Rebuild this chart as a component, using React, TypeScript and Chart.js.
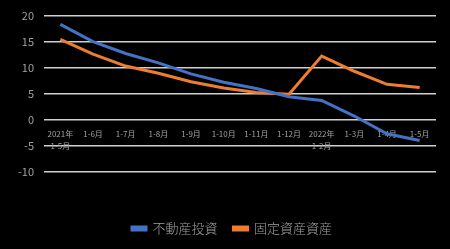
import React, { useEffect, useRef } from "react";
import { Chart, registerables } from "chart.js";

Chart.register(...registerables);

const categories: (string | string[])[] = [
  ["2021年", "1-5月"], "1-6月", "1-7月", "1-8月", "1-9月", "1-10月",
  "1-11月", "1-12月", ["2022年", "1-2月"], "1-3月", "1-4月", "1-5月",
];
const realEstate = [18.3, 15.0, 12.7, 10.9, 8.8, 7.2, 6.0, 4.4, 3.7, 0.7, -2.7, -4.0];
const fixedAssets = [15.4, 12.6, 10.3, 8.9, 7.3, 6.1, 5.2, 4.9, 12.2, 9.3, 6.8, 6.2];
const seriesNames = ["不動産投資", "固定資産資産"];

const shiftLegend = {
  id: "shiftLegend",
  afterLayout(chart: any) {
    if (chart.legend) {
      chart.legend.left += 10;
      chart.legend.right += 10;
    }
  },
};

export default function App() {
  const ref = useRef<HTMLCanvasElement>(null);
  useEffect(() => {
    if (!ref.current) return;
    const font = "'Noto Sans CJK JP', 'Noto Sans', sans-serif";
    const chart = new Chart(ref.current, {
      type: "line",
      data: {
        labels: categories,
        datasets: [
          {
            label: seriesNames[0],
            data: realEstate,
            borderColor: "#4472c4",
            backgroundColor: "#4472c4",
            borderWidth: 3,
            pointRadius: 0,
            tension: 0,
          },
          {
            label: seriesNames[1],
            data: fixedAssets,
            borderColor: "#ed7d31",
            backgroundColor: "#ed7d31",
            borderWidth: 3,
            pointRadius: 0,
            tension: 0,
          },
        ],
      },
      plugins: [shiftLegend],
      options: {
        animation: false,
        responsive: false,
        layout: { padding: { top: 5, right: 14, left: 8, bottom: 4 } },
        plugins: {
          tooltip: { enabled: false },
          legend: {
            position: "bottom",
            title: {
              display: true,
              text: "",
              font: { size: 1 },
              padding: { top: 33, bottom: 0 },
            },
            labels: {
              color: "#a0a0a0",
              font: { family: font, size: 13, weight: 300 },
              boxWidth: 14,
              boxHeight: 3,
              padding: 16,
            },
          },
        },
        scales: {
          x: {
            position: { y: 0 } as any,
            offset: true,
            grid: { display: false },
            border: { display: false },
            ticks: {
              color: "#a0a0a0",
              font: { family: font, size: 8, lineHeight: 1.5 },
              maxRotation: 0,
              autoSkip: false,
              padding: 0,
            },
          },
          y: {
            min: -10,
            max: 20,
            ticks: {
              stepSize: 5,
              color: "#a0a0a0",
              font: { family: font, size: 11, lineHeight: 1 },
              padding: 10,
            },
            grid: { color: "#d0d0d0", lineWidth: 1.5, drawTicks: false },
            border: { display: false },
          },
        },
      },
    });
    return () => chart.destroy();
  }, []);
  return (
    <div style={{ position: "fixed", left: 0, top: 0, width: 450, height: 249, background: "#000" }}>
      <canvas ref={ref} width={450} height={249} />
    </div>
  );
}
